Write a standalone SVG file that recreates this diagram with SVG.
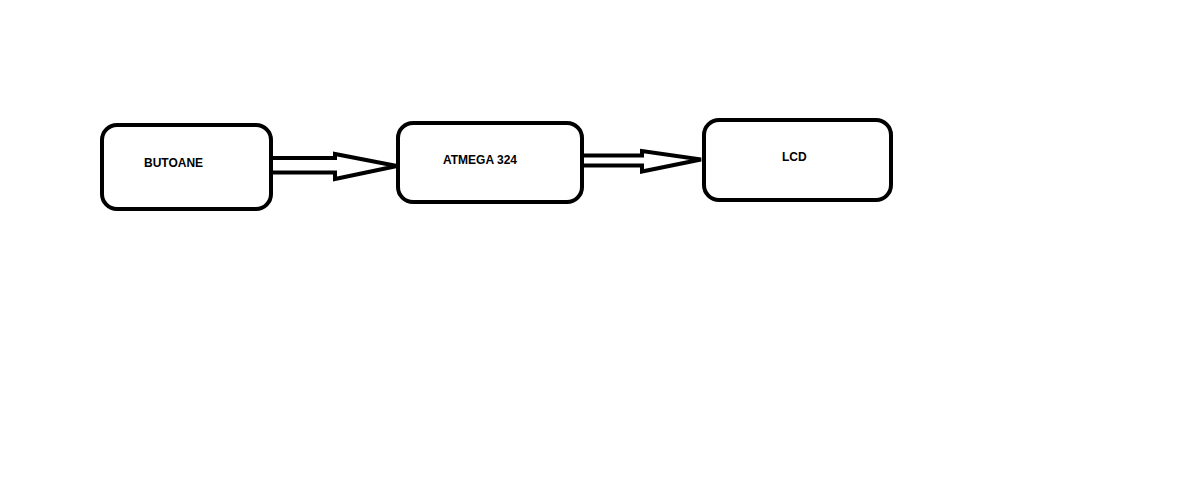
<svg xmlns="http://www.w3.org/2000/svg" width="1190" height="502" viewBox="0 0 1190 502">
<style>
.box{fill:#fff;stroke:#000;stroke-width:4}
.arr{fill:#fff;stroke:#000;stroke-width:4;stroke-linejoin:miter}
.lbl{font-family:"Liberation Sans",Arial,sans-serif;font-weight:bold;font-size:12px;fill:#000}
</style>
<rect width="1190" height="502" fill="#fff"/>
<g id="connectors">
<path class="arr" d="M272,158 L335,158 L335,154 L397,166 L335,179 L335,172.5 L272,172.5"/>
<path class="arr" d="M582,155.5 L642,155.5 L642,151 L701,159.5 L642,171.5 L642,165.5 L582,165.5"/>
</g>
<g id="butoane">
<rect class="box" x="102" y="125" width="169" height="84" rx="15"/>
<text class="lbl" x="144" y="167.3">BUTOANE</text>
</g>
<g id="atmega">
<rect class="box" x="398" y="123" width="184" height="79" rx="15"/>
<text class="lbl" x="443" y="163.7">ATMEGA 324</text>
</g>
<g id="lcd">
<rect class="box" x="704" y="120" width="187" height="80" rx="15"/>
<text class="lbl" x="782" y="160.7">LCD</text>
</g>
</svg>
